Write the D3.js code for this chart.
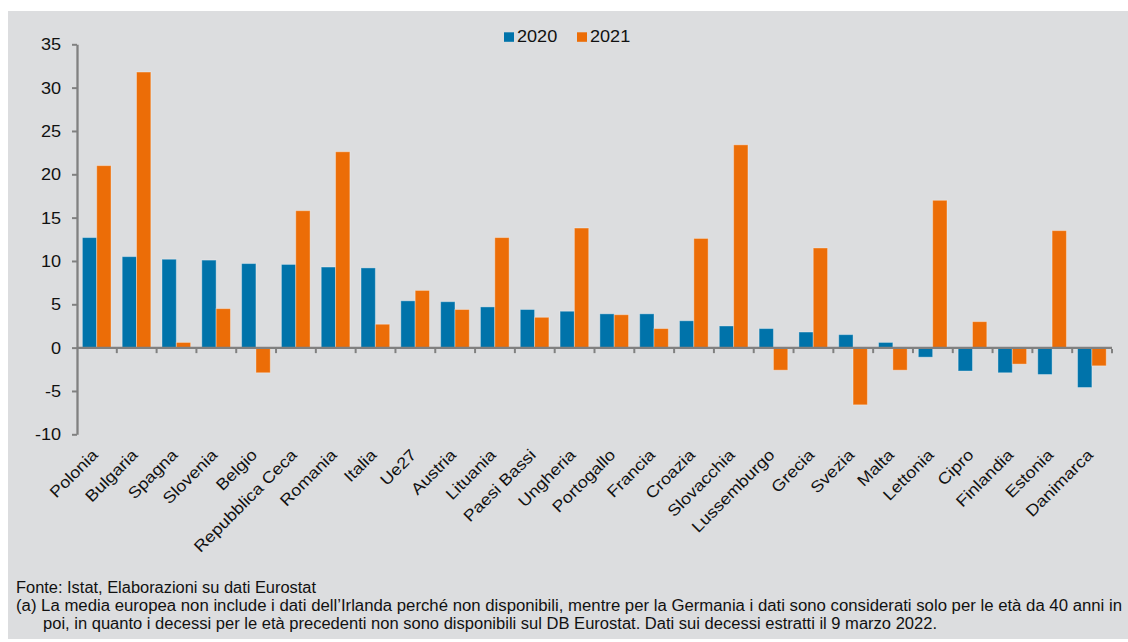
<!DOCTYPE html>
<html>
<head>
<meta charset="utf-8">
<script src="https://cdn.jsdelivr.net/npm/d3@7/dist/d3.min.js"></script>
<style>
  html, body { margin: 0; padding: 0; background: #ffffff; }
  svg { display: block; }
</style>
</head>
<body>
<svg id="chart" width="1128" height="642"></svg>
<script>
const categories = ["Polonia","Bulgaria","Spagna","Slovenia","Belgio","Repubblica Ceca","Romania","Italia","Ue27","Austria","Lituania","Paesi Bassi","Ungheria","Portogallo","Francia","Croazia","Slovacchia","Lussemburgo","Grecia","Svezia","Malta","Lettonia","Cipro","Finlandia","Estonia","Danimarca"];
const series = ["2020", "2021"];
const values2020 = [12.7, 10.5, 10.2, 10.1, 9.7, 9.6, 9.3, 9.2, 5.4, 5.3, 4.7, 4.4, 4.2, 3.9, 3.9, 3.1, 2.5, 2.2, 1.8, 1.5, 0.6, -1.1, -2.7, -2.9, -3.1, -4.6];
const values2021 = [21.0, 31.8, 0.6, 4.5, -2.9, 15.8, 22.6, 2.7, 6.6, 4.4, 12.7, 3.5, 13.8, 3.8, 2.2, 12.6, 23.4, -2.6, 11.5, -6.6, -2.6, 17.0, 3.0, -1.9, 13.5, -2.1];
const yTicks = [-10, -5, 0, 5, 10, 15, 20, 25, 30, 35];
const footnotes = [
  "Fonte: Istat, Elaborazioni su dati Eurostat",
  "(a) La media europea non include i dati dell\u2019Irlanda perch\u00e9 non disponibili, mentre per la Germania i dati sono considerati solo per le et\u00e0 da 40 anni in",
  "poi, in quanto i decessi per le et\u00e0 precedenti non sono disponibili sul DB Eurostat. Dati sui decessi estratti il 9 marzo 2022."
];

const colors = { "2020": "#0073aa", "2021": "#ec6d07" };
const axisGrey = "#808080";
const FONT = "'Liberation Sans', Arial, Helvetica, sans-serif";
const STRETCH = 1.13;

const svg = d3.select("#chart");

// background panel
svg.append("rect").attr("x", 8).attr("y", 11).attr("width", 1120).attr("height", 628).attr("fill", "#dcdddf");

const x = d3.scaleBand().domain(categories).range([77, 1112]).padding(0);
const inner = d3.scaleBand().domain(series).range([x.bandwidth() * 0.135, x.bandwidth() * 0.855]);
const y = d3.scaleLinear().domain([-10, 35]).range([434.3, 44.3]);

const rows = categories.map((c, i) => ({ cat: c, vals: [
  { s: "2020", v: values2020[i] },
  { s: "2021", v: values2021[i] }
]}));

// bars
const g = svg.append("g");
g.selectAll("g.grp").data(rows).join("g")
  .attr("class", "grp")
  .attr("transform", d => `translate(${x(d.cat)},0)`)
  .selectAll("rect").data(d => d.vals).join("rect")
  .attr("x", d => inner(d.s))
  .attr("width", inner.bandwidth())
  .attr("y", d => y(Math.max(0, d.v)))
  .attr("height", d => Math.abs(y(d.v) - y(0)))
  .attr("fill", d => colors[d.s])
  .attr("stroke", "rgba(255,255,255,0.35)")
  .attr("stroke-width", 1);

// y axis
const yAxis = svg.append("g").attr("transform", "translate(77,0)")
  .call(d3.axisLeft(y).tickValues(yTicks).tickSize(5).tickSizeOuter(0).tickPadding(11).tickFormat(d => String(d)));
yAxis.select(".domain").attr("stroke", axisGrey).attr("stroke-width", 2.3);
yAxis.selectAll(".tick line").attr("stroke", axisGrey).attr("stroke-width", 2);
yAxis.selectAll(".tick text").attr("font-family", FONT).attr("font-size", 16).attr("fill", "#111").attr("dy", "0.35em");

// x axis zero line and ticks
svg.append("line").attr("x1", 77).attr("x2", 1112).attr("y1", y(0) + 0.3).attr("y2", y(0) + 0.3)
  .attr("stroke", axisGrey).attr("stroke-width", 2.3);
svg.append("g").selectAll("line").data(categories).join("line")
  .attr("x1", d => x(d) + x.bandwidth()).attr("x2", d => x(d) + x.bandwidth())
  .attr("y1", y(0) + 1.3).attr("y2", y(0) + 5.5)
  .attr("stroke", axisGrey).attr("stroke-width", 2);

// x labels
svg.append("g").selectAll("text").data(categories).join("text")
  .attr("class", "stretch end")
  .attr("transform", d => `translate(${x(d) + x.bandwidth() / 2 + 2},456) rotate(-45)`)
  .attr("text-anchor", "end")
  .attr("font-family", FONT).attr("font-size", 16).attr("fill", "#111")
  .text(d => d);

// legend
const legend = svg.append("g");
const legendItems = [{ s: "2020", x: 504 }, { s: "2021", x: 577 }];
legendItems.forEach(it => {
  legend.append("rect").attr("x", it.x).attr("y", 32.3).attr("width", 10).attr("height", 9.5).attr("fill", colors[it.s]);
  legend.append("text").attr("class", "stretch").attr("x", it.x + 13).attr("y", 41.7)
    .attr("font-family", FONT).attr("font-size", 16).attr("fill", "#111").text(it.s);
});

// stretch chart text horizontally to match the reference glyph widths
yAxis.selectAll(".tick text").each(function () {
  const len = this.getComputedTextLength();
  d3.select(this).attr("textLength", len * STRETCH).attr("lengthAdjust", "spacingAndGlyphs");
});
svg.selectAll("text.stretch").each(function () {
  const len = this.getComputedTextLength();
  d3.select(this).attr("textLength", len * STRETCH).attr("lengthAdjust", "spacingAndGlyphs");
});

// footnotes (narrow type)
const fnSpec = [
  { x: 16, y: 592.5, w: 300 },
  { x: 16, y: 611, w: 1106 },
  { x: 43, y: 628.5, w: 894 }
];
svg.append("g").selectAll("text").data(footnotes).join("text")
  .attr("x", (d, i) => fnSpec[i].x)
  .attr("y", (d, i) => fnSpec[i].y)
  .attr("textLength", (d, i) => fnSpec[i].w)
  .attr("lengthAdjust", "spacingAndGlyphs")
  .attr("font-family", FONT)
  .attr("font-size", 16)
  .attr("fill", "#111")
  .text(d => d);
</script>
</body>
</html>
